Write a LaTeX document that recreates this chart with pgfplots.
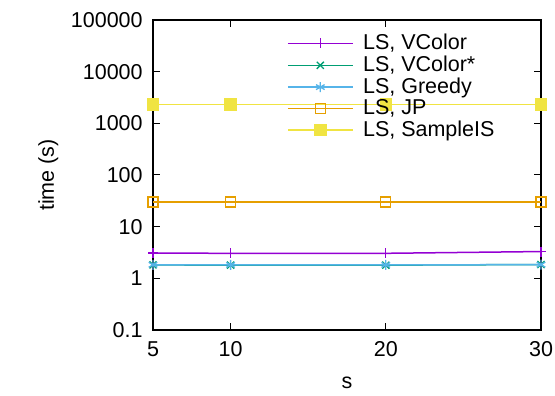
\documentclass[border=0pt]{standalone}
\usepackage{pgfplots}
\pgfplotsset{compat=1.18}
\usepackage{fontspec}
\setmainfont{Liberation Sans}
\usetikzlibrary{calc}
\definecolor{cA}{HTML}{9400D3}
\definecolor{cB}{HTML}{009E73}
\definecolor{cC}{HTML}{56B4E9}
\definecolor{cD}{HTML}{E69F00}
\definecolor{cE}{HTML}{F0E442}
\begin{document}
\fontsize{21.5}{25}\selectfont
\begin{tikzpicture}
\begin{axis}[name=ax,
  scale only axis, width=388pt, height=310pt,
  xmin=5, xmax=30, ymode=log, ymin=0.1, ymax=100000,
  xtick={5,10,20,30},
  ytick={0.1,1,10,100,1000,10000,100000},
  yticklabels={0.1,1,10,100,1000,10000,100000},
  log basis y=10,
  minor y tick num=8,
  tick align=inside,
  major tick length=7pt, minor tick length=4pt,
  axis line style={line width=1.3pt},
  every tick/.style={black, line width=1pt},
  tick label style={font=\fontsize{21.5}{25}\selectfont},
  /pgf/number format/assume math mode=true,
  xticklabel style={yshift=-4pt},
  yticklabel style={xshift=-3pt},
  xlabel={s}, ylabel={time (s)},
  label style={font=\fontsize{21.5}{25}\selectfont},
  xlabel style={yshift=-6pt},
  ylabel style={yshift=-2pt},
  legend style={draw=none, fill=none, at={(rel axis cs:0.345,0.96)}, anchor=north west,
    inner sep=0pt, row sep=0pt, column sep=8pt, font=\fontsize{21.5}{25}\selectfont,
    nodes={inner sep=1.5pt, anchor=west}},
  legend cell align=left,
  legend image code/.code={\draw[mark repeat=2,mark phase=2] plot coordinates {(0pt,0pt)(32.5pt,0pt)(65pt,0pt)};},
  clip=false,
]
\addplot[cA, line width=1.5pt, mark=+, mark size=5pt, mark options={line width=1.3pt}] coordinates {(5,3.08)(10,3.05)(20,3.05)(30,3.3)};
\addlegendentry{LS, VColor}
\addplot[cB, line width=1.5pt, mark=x, mark size=5pt, mark options={line width=1.3pt}] coordinates {(5,1.82)(10,1.8)(20,1.8)(30,1.85)};
\addlegendentry{LS, VColor*}
\addplot[cC, line width=1.5pt, mark=asterisk, mark size=5pt, mark options={line width=1.3pt}] coordinates {(5,1.83)(10,1.82)(20,1.82)(30,1.84)};
\addlegendentry{LS, Greedy}
\addplot[cD, line width=1.5pt, mark=square, mark size=5pt, mark options={line width=1.3pt}] coordinates {(5,30.2)(10,30.2)(20,30.2)(30,30.2)};
\addlegendentry{LS, JP}
\addplot[cE, line width=1.5pt, mark=square*, mark size=5.5pt] coordinates {(5,2290)(10,2290)(20,2290)(30,2290)};
\addlegendentry{LS, SampleIS}
\end{axis}
\pgfresetboundingbox
\path[use as bounding box] ($(ax.south west)+(-153pt,-65pt)$) rectangle ($(ax.north east)+(14pt,20pt)$);
\end{tikzpicture}
\end{document}
